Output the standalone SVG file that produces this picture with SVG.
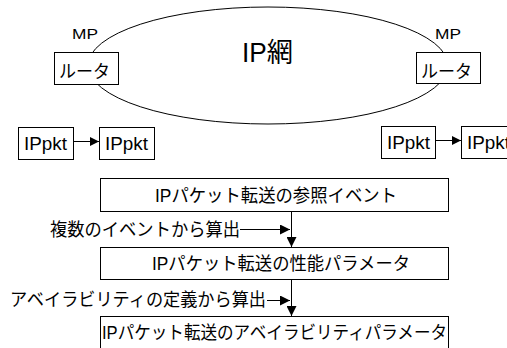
<svg xmlns="http://www.w3.org/2000/svg" width="507" height="348" viewBox="0 0 507 348">
<style>
.bx{fill:#fff;stroke:#000;stroke-width:1}
.ln{fill:none;stroke:#000;stroke-width:1}
.t{font-family:"Liberation Sans","Noto Sans CJK JP",sans-serif;fill:#000}
</style>
<defs>
<marker id="ah" markerUnits="userSpaceOnUse" markerWidth="10" markerHeight="10" refX="10" refY="5" orient="auto">
<path d="M0,0 L10,5 L0,10 z" fill="#000"/>
</marker>
<marker id="as" markerUnits="userSpaceOnUse" markerWidth="9" markerHeight="9" refX="9" refY="4.5" orient="auto">
<path d="M0,0 L9,4.5 L0,9 z" fill="#000"/>
</marker>
</defs>
<rect width="507" height="348" fill="#fff"/>
<g id="ipnet">
<ellipse cx="268" cy="65.5" rx="180" ry="58.5" class="ln"/>
<text class="t" x="242" y="62" font-size="27" textLength="51" lengthAdjust="spacingAndGlyphs">IP網</text>
</g>
<g id="router-left">
<text class="t" x="72" y="39" font-size="15" textLength="26" lengthAdjust="spacingAndGlyphs">MP</text>
<rect class="bx" x="54.5" y="52.5" width="64" height="32"/>
<text class="t" x="59" y="77.5" font-size="18" textLength="51" lengthAdjust="spacingAndGlyphs">ルータ</text>
</g>
<g id="router-right">
<text class="t" x="435" y="39" font-size="15" textLength="26" lengthAdjust="spacingAndGlyphs">MP</text>
<rect class="bx" x="416.5" y="52.5" width="64" height="31"/>
<text class="t" x="421" y="77.5" font-size="18" textLength="51" lengthAdjust="spacingAndGlyphs">ルータ</text>
</g>
<g id="pkt1">
<rect class="bx" x="18.5" y="127.5" width="55" height="32"/>
<text class="t" x="24" y="149.5" font-size="18" textLength="43" lengthAdjust="spacingAndGlyphs">IPpkt</text>
</g>
<g id="pkt2">
<rect class="bx" x="99.5" y="127.5" width="55" height="32"/>
<text class="t" x="105" y="149.5" font-size="18" textLength="43" lengthAdjust="spacingAndGlyphs">IPpkt</text>
</g>
<g id="pkt3">
<rect class="bx" x="381.5" y="126.5" width="54" height="32"/>
<text class="t" x="387" y="148.5" font-size="18" textLength="43" lengthAdjust="spacingAndGlyphs">IPpkt</text>
</g>
<g id="pkt4">
<rect class="bx" x="461.5" y="126.5" width="55" height="32"/>
<text class="t" x="467" y="148.5" font-size="18" textLength="43" lengthAdjust="spacingAndGlyphs">IPpkt</text>
</g>
<g id="ref-event">
<rect class="bx" x="100.5" y="178.5" width="348" height="33"/>
<text class="t" x="155" y="202" font-size="18" textLength="242" lengthAdjust="spacingAndGlyphs">IPパケット転送の参照イベント</text>
</g>
<g id="perf-param">
<rect class="bx" x="100.5" y="247.5" width="348" height="32"/>
<text class="t" x="152" y="270" font-size="18" textLength="258" lengthAdjust="spacingAndGlyphs">IPパケット転送の性能パラメータ</text>
</g>
<g id="avail-param">
<rect class="bx" x="100.5" y="316.5" width="348" height="40"/>
<text class="t" x="102" y="338.5" font-size="18" textLength="345" lengthAdjust="spacingAndGlyphs">IPパケット転送のアベイラビリティパラメータ</text>
</g>
<g id="labels">
<text class="t" x="50" y="236" font-size="18" textLength="190" lengthAdjust="spacingAndGlyphs">複数のイベントから算出</text>
<text class="t" x="10" y="306" font-size="18" textLength="256" lengthAdjust="spacingAndGlyphs">アベイラビリティの定義から算出</text>
</g>
<g id="connectors">
<line class="ln" x1="73" y1="141.5" x2="99" y2="141.5" marker-end="url(#as)"/>
<line class="ln" x1="435" y1="140.5" x2="461" y2="140.5" marker-end="url(#as)"/>
<line class="ln" x1="291.5" y1="212" x2="291.5" y2="247" marker-end="url(#ah)"/>
<line class="ln" x1="240" y1="229.5" x2="290" y2="229.5" marker-end="url(#ah)"/>
<line class="ln" x1="291.5" y1="280" x2="291.5" y2="316" marker-end="url(#ah)"/>
<line class="ln" x1="267" y1="300.5" x2="290" y2="300.5" marker-end="url(#ah)"/>
</g>
</svg>
